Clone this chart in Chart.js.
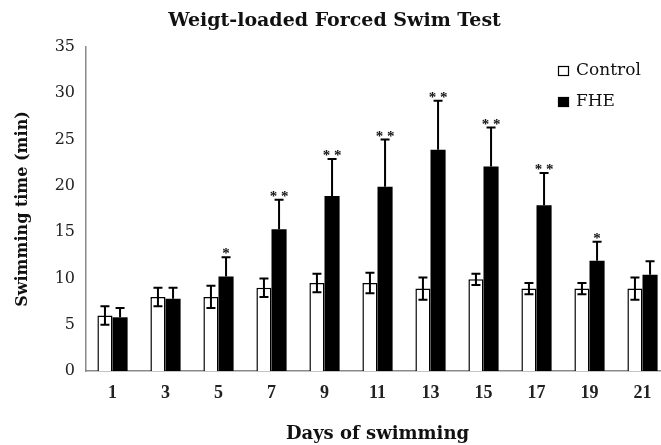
<!DOCTYPE html>
<html><head><meta charset="utf-8">
<script src="https://cdn.jsdelivr.net/npm/chart.js@4/dist/chart.umd.min.js"></script>
<style>html,body{margin:0;padding:0;background:#fff;overflow:hidden;width:661px;height:445px}#wrap{width:669px;height:445px}</style>
</head><body><div id="wrap"><canvas id="c" width="669" height="445"></canvas></div>
<script>
const days = ['1','3','5','7','9','11','13','15','17','19','21'];
const control = [6, 8, 8, 9, 9.5, 9.5, 8.9, 9.9, 8.9, 8.9, 8.9];
const controlErr = [1, 1, 1.2, 1, 1, 1.1, 1.2, 0.6, 0.6, 0.6, 1.2];
const fhe = [5.8, 7.8, 10.2, 15.3, 18.9, 19.9, 23.9, 22.1, 17.9, 11.9, 10.4];
const fheErr = [1, 1.2, 2.1, 3.2, 4, 5.1, 5.3, 4.2, 3.5, 2.05, 1.45];
const signif = ['', '', '*', '**', '**', '**', '**', '**', '**', '*', ''];
const yTicks = [0, 5, 10, 15, 20, 25, 30, 35];

const serif = '"Liberation Serif", "Times New Roman", serif';
const wide = '"DejaVu Serif", serif';

const errorBars = {
  id: 'errorBars',
  afterDatasetsDraw(chart) {
    const ctx = chart.ctx, y = chart.scales.y;
    const mc = chart.getDatasetMeta(0), mf = chart.getDatasetMeta(1);
    ctx.save();
    ctx.strokeStyle = '#000';
    ctx.lineWidth = 2;
    const cap = 4.5;
    mc.data.forEach((bar, i) => {
      const x = bar.x;
      const t = y.getPixelForValue(control[i] + controlErr[i]);
      const b = y.getPixelForValue(control[i] - controlErr[i]);
      ctx.beginPath();
      ctx.moveTo(x, t); ctx.lineTo(x, b);
      ctx.moveTo(x - cap, t); ctx.lineTo(x + cap, t);
      ctx.moveTo(x - cap, b); ctx.lineTo(x + cap, b);
      ctx.stroke();
    });
    ctx.fillStyle = '#111';
    ctx.font = 'bold 15px ' + serif;
    ctx.textAlign = 'center';
    ctx.textBaseline = 'alphabetic';
    mf.data.forEach((bar, i) => {
      const x = bar.x;
      const t = y.getPixelForValue(fhe[i] + fheErr[i]);
      ctx.beginPath();
      ctx.moveTo(x, bar.y); ctx.lineTo(x, t);
      ctx.moveTo(x - cap, t); ctx.lineTo(x + cap, t);
      ctx.stroke();
      if (signif[i]) {
        ctx.fillText(signif[i].split('').join(' '), x, t + 1);
      }
    });
    ctx.restore();
  }
};

const legendBox = {
  id: 'legendBox',
  afterDraw(chart) {
    const ctx = chart.ctx;
    ctx.save();
    ctx.font = '17px ' + wide;
    ctx.textBaseline = 'middle';
    ctx.textAlign = 'left';
    const rows = [71, 102];
    chart.data.datasets.forEach((ds, i) => {
      const yc = rows[i];
      ctx.fillStyle = ds.backgroundColor;
      ctx.fillRect(558, yc - 5, 11, 10);
      ctx.strokeStyle = '#000';
      ctx.lineWidth = 1.2;
      ctx.strokeRect(558.5, yc - 4.5, 10, 9);
      ctx.fillStyle = '#111';
      ctx.fillText(ds.label, 576, yc);
    });
    ctx.restore();
  }
};

new Chart(document.getElementById('c'), {
  type: 'bar',
  data: {
    labels: days,
    datasets: [
      { label: 'Control', data: control, backgroundColor: '#ffffff', borderColor: '#000', borderWidth: 1.5 },
      { label: 'FHE', data: fhe, backgroundColor: '#000000', borderColor: '#000', borderWidth: 0 }
    ]
  },
  options: {
    responsive: false,
    animation: false,
    categoryPercentage: 0.57,
    barPercentage: 1,
    layout: { padding: 0 },
    plugins: {
      legend: { display: false },
      tooltip: { enabled: false },
      title: {
        display: true,
        text: 'Weigt-loaded Forced Swim Test',
        font: { family: wide, size: 19, weight: 'bold' },
        color: '#111',
        padding: { top: 10, bottom: 14.2 }
      }
    },
    scales: {
      x: {
        grid: { display: false, drawTicks: false },
        border: { display: true, color: '#8a8a8a', width: 1.5 },
        ticks: { font: { family: serif, size: 18, weight: 'bold' }, color: '#222', padding: 12 },
        title: { display: true, text: 'Days of swimming', font: { family: wide, size: 18, weight: 'bold' }, color: '#111', padding: { top: 0, bottom: 0 } },
        afterFit(s) { s.height = 74; }
      },
      y: {
        min: yTicks[0], max: yTicks[yTicks.length - 1],
        afterBuildTicks(s) { s.ticks = yTicks.map(v => ({ value: v })); },
        grid: { display: false, drawTicks: false },
        border: { display: true, color: '#8a8a8a', width: 1.5 },
        ticks: { font: { family: wide, size: 16 }, color: '#222', padding: 11 },
        title: { display: true, text: 'Swimming time (min)', font: { family: wide, size: 16, weight: 'bold' }, color: '#111', padding: { top: 13, bottom: 0 } },
        afterFit(s) { s.width = 86; }
      }
    }
  },
  plugins: [errorBars, legendBox]
});
</script>
</body></html>
